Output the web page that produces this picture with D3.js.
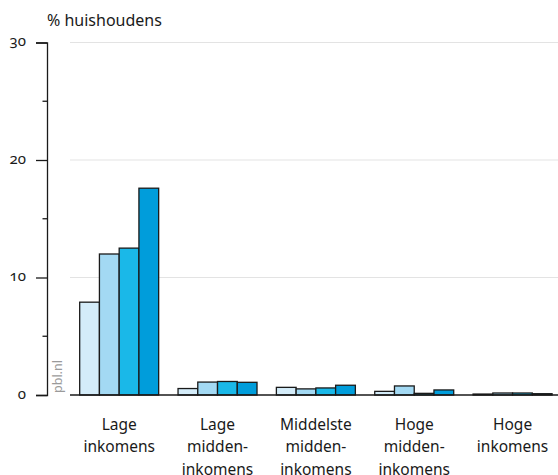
<!DOCTYPE html>
<html><head><meta charset="utf-8">
<script src="https://cdn.jsdelivr.net/npm/d3@7"></script>
<style>
body{margin:0;background:#fff;}
#wrap{position:relative;width:558px;height:475px;}
svg{display:block;font-family:"Noto Sans","Open Sans",sans-serif;}
.tl{position:absolute;left:0;width:26px;text-align:right;font-family:"Noto Sans";font-size:15px;line-height:15px;color:#1a1a1a;
  font-variant-numeric:oldstyle-nums;font-feature-settings:"onum" 1;}
</style></head>
<body><div id="wrap"><svg id="c" width="558" height="475"></svg></div>
<script>
const categories = [["Lage","inkomens"],["Lage","midden-","inkomens"],["Middelste","midden-","inkomens"],["Hoge","midden-","inkomens"],["Hoge","inkomens"]];
const series1 = [7.9, 0.55, 0.65, 0.31, 0.08];
const series2 = [12.0, 1.1, 0.52, 0.77, 0.17];
const series3 = [12.5, 1.15, 0.6, 0.14, 0.17];
const series4 = [17.6, 1.08, 0.83, 0.43, 0.11];
const seriesColors = ["#d4ecf9","#a3d9f3","#1ab8e8","#009ddb"];
const yTicks = [0,10,20,30];
const yMinor = [5,15,25];
const yLabel = "% huishoudens";

const svg = d3.select("#c");
const y = d3.scaleLinear().domain([0,30]).range([395,42.5]);
const x0 = d3.scaleBand().domain(d3.range(categories.length)).range([70,561.75]).paddingInner(0.197).paddingOuter(0.0985);
const x1 = d3.scaleBand().domain(d3.range(4)).range([0,x0.bandwidth()]);
const series = [series1,series2,series3,series4];

// gridlines
svg.append("g").selectAll("line").data(yTicks.filter(d=>d>0)).join("line")
  .attr("x1",70).attr("x2",558).attr("y1",d=>y(d)).attr("y2",d=>y(d))
  .attr("stroke","#e3e3e3").attr("stroke-width",1);

// bars
const g = svg.append("g").selectAll("g").data(categories.map((c,i)=>i)).join("g")
  .attr("transform",i=>`translate(${x0(i)},0)`);
g.selectAll("rect").data(i=>series.map((s,k)=>({k,v:s[i]}))).join("rect")
  .attr("x",d=>x1(d.k)).attr("width",x1.bandwidth())
  .attr("y",d=>y(d.v)).attr("height",d=>y(0)-y(d.v))
  .attr("fill",d=>seriesColors[d.k]).attr("stroke","#1a1a1a").attr("stroke-width",1.3);

// baseline
svg.append("line").attr("x1",70).attr("x2",558).attr("y1",y(0)).attr("y2",y(0)).attr("stroke","#1a1a1a").attr("stroke-width",1.3);

// y axis (labels drawn as HTML for old-style figures)
const ax = svg.append("g").attr("transform","translate(47,0)")
  .call(d3.axisLeft(y).tickValues(yTicks).tickSize(11).tickFormat(""));
ax.select(".domain").attr("stroke","#1a1a1a").attr("stroke-width",1.3);
ax.selectAll(".tick line").attr("stroke","#1a1a1a").attr("stroke-width",1.3);
svg.append("g").selectAll("line").data(yMinor).join("line")
  .attr("x1",42.5).attr("x2",47).attr("y1",d=>y(d)).attr("y2",d=>y(d)).attr("stroke","#1a1a1a").attr("stroke-width",1.3);
d3.select("#wrap").selectAll("div.tl").data(yTicks).join("div").attr("class","tl")
  .style("top",d=>(y(d)-9.3)+"px").text(d=>d3.format("d")(d));

// y label
svg.append("text").attr("x",47).attr("y",25.5).attr("font-size",16).attr("fill","#1a1a1a").text(yLabel);

// pbl.nl
svg.append("text").attr("transform","translate(62,393) rotate(-90)").attr("font-size",12.5).attr("fill","#9a9a9a").text("pbl.nl");

// category labels
const lab = svg.append("g").selectAll("text").data(categories.map((c,i)=>({c,i}))).join("text")
  .attr("text-anchor","middle").attr("font-size",15.5).attr("fill","#1a1a1a")
  .attr("x",d=>x0(d.i)+x0.bandwidth()/2).attr("y",429.5);
lab.selectAll("tspan").data(d=>d.c.map((t,j)=>({t,j,x:x0(d.i)+x0.bandwidth()/2}))).join("tspan")
  .attr("x",d=>d.x).attr("y",d=>429.5+d.j*22.5).text(d=>d.t);
</script></body></html>
